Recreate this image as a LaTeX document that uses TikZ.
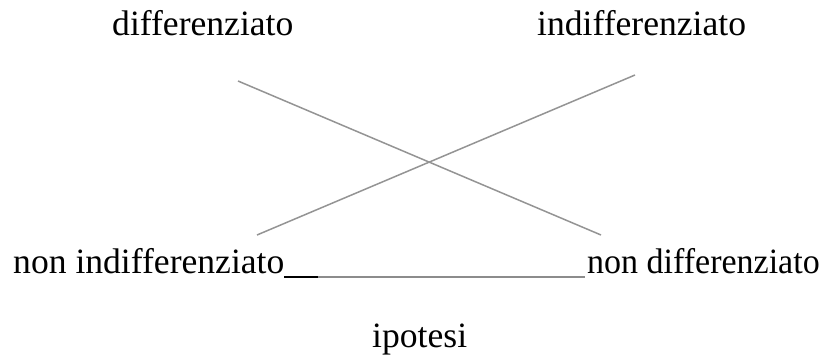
\documentclass[tikz,border=0pt]{standalone}
\usepackage{fontspec}
\setmainfont{Liberation Serif}
\begin{document}
\begin{tikzpicture}[x=1pt,y=-1pt,
  lbl/.style={inner sep=0pt,anchor=base west,font=\fontsize{35.6}{42}\selectfont},
  cross/.style={draw=black!42,line width=1.5pt},
  uline/.style={line width=1.5pt}]
\useasboundingbox (0,0) rectangle (829,361);
\node[lbl] (d) at (112,36) {differenziato};
\node[lbl] (i) at (537,36) {indifferenziato};
\node[lbl] (ni) at (13,273) {non indifferenziato};
\node[lbl] (nd) at (587,273) {\scalebox{0.955}[1]{non differenziato}};
\node[lbl] (ip) at (372,347) {ipotesi};
\coordinate (a1) at (238,81);
\coordinate (a2) at (601,235);
\coordinate (b1) at (257,235);
\coordinate (b2) at (635,75);
\coordinate (u1) at (284,277);
\coordinate (u2) at (318,277);
\coordinate (u3) at (585,277);
\draw[cross] (a1) -- (a2);
\draw[cross] (b1) -- (b2);
\draw[uline,black] (u1) -- (u2);
\draw[uline,black!45] (u2) -- (u3);
\end{tikzpicture}
\end{document}
